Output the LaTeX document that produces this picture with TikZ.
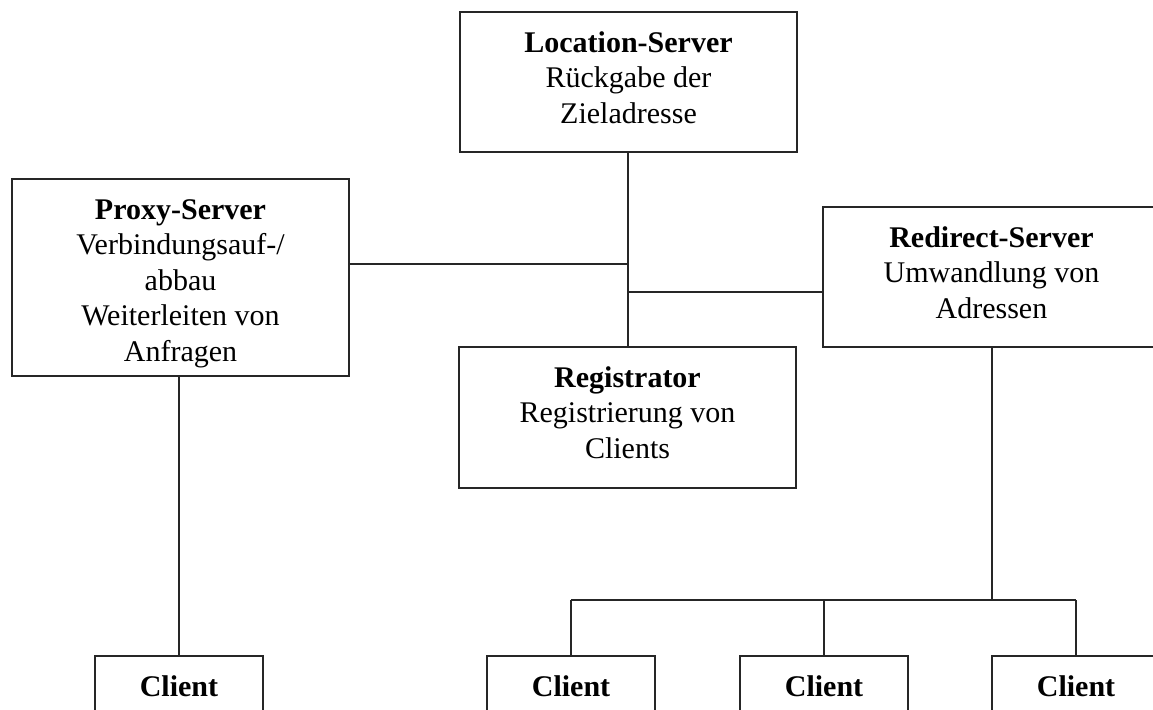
\documentclass[tikz,border=0pt]{standalone}
\usepackage{fontspec}
\setmainfont{Liberation Serif}
\begin{document}
\begin{tikzpicture}[x=0.5pt,y=-0.5pt,
  box/.style={draw=black!85, line width=1pt, inner sep=0pt, outer sep=0pt,
    anchor=north west, minimum width=168.5pt},
  txt/.style={anchor=north, inner sep=0pt, align=center, yshift=-7.6pt,
    font=\fontsize{15pt}{17.75pt}\selectfont},
  conn/.style={draw=black!85, line width=1pt}]
  \useasboundingbox (0,0) rectangle (1153,709);
  \clip (0,0) rectangle (1153,709);

  % server boxes
  \node[box, minimum height=70pt]   (loc)   at (460,12)  {};
  \node[box, minimum height=98.5pt] (proxy) at (12,179)  {};
  \node[box, minimum height=70.5pt] (reg)   at (459,347) {};
  \node[box, minimum height=70pt]   (redir) at (823,207) {};

  % client boxes (run off the lower edge)
  \node[box, minimum width=84pt, minimum height=50pt] (pc) at (95,656)  {};
  \node[box, minimum width=84pt, minimum height=50pt] (c1) at (487,656) {};
  \node[box, minimum width=84pt, minimum height=50pt] (c2) at (740,656) {};
  \node[box, minimum width=84pt, minimum height=50pt] (c3) at (992,656) {};

  % box texts
  \node[txt] at (loc.north)   {\strut\textbf{Location-Server}\\Rückgabe der\\Zieladresse};
  \node[txt] at (proxy.north) {\strut\textbf{Proxy-Server}\\Verbindungsauf-/\\abbau\\Weiterleiten von\\Anfragen};
  \node[txt] at (reg.north)   {\strut\textbf{Registrator}\\Registrierung von\\Clients};
  \node[txt] at (redir.north) {\strut\textbf{Redirect-Server}\\Umwandlung von\\Adressen};
  \node[txt] at (pc.north) {\strut\textbf{Client}};
  \node[txt] at (c1.north) {\strut\textbf{Client}};
  \node[txt] at (c2.north) {\strut\textbf{Client}};
  \node[txt] at (c3.north) {\strut\textbf{Client}};

  % junction points
  \coordinate (jp)  at (628,264);
  \coordinate (jr)  at (628,292);
  \coordinate (bus) at (992,600);

  % central trunk and branches
  \draw[conn] (loc.south -| jp) -- (reg.north -| jp);
  \draw[conn] (proxy.east |- jp) -- (jp);
  \draw[conn] (jr) -- (redir.west |- jr);

  % proxy to its client
  \draw[conn] (pc.north |- proxy.south) -- (pc.north);

  % redirect server to client bus
  \draw[conn] (redir.south -| bus) -- (bus);
  \draw[conn] (c1.north |- bus) -- (c3.north |- bus);
  \draw[conn] (c1.north |- bus) -- (c1.north);
  \draw[conn] (c2.north |- bus) -- (c2.north);
  \draw[conn] (c3.north |- bus) -- (c3.north);
\end{tikzpicture}
\end{document}
